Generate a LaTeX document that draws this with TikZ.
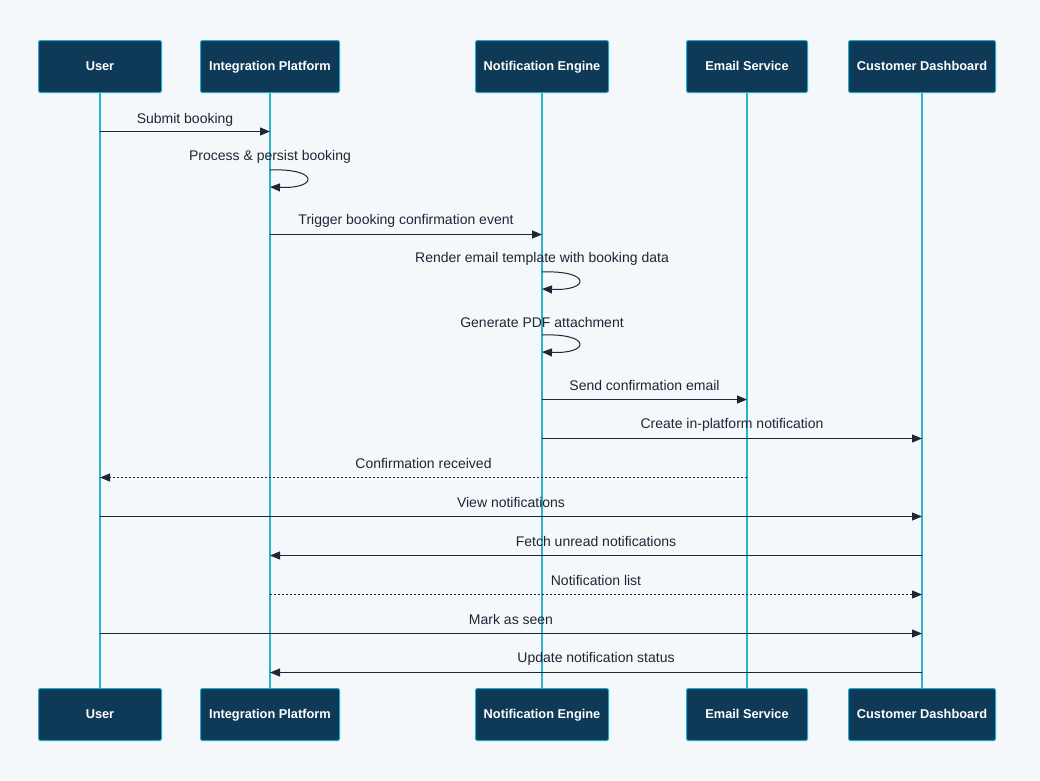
\documentclass[tikz,border=0pt]{standalone}
\usepackage{fontspec}
\setmainfont{Liberation Sans}
\usetikzlibrary{arrows.meta}
\definecolor{bg}{HTML}{F4F8FB}
\definecolor{boxfill}{HTML}{0E3A58}
\definecolor{boxline}{HTML}{22A9CA}
\definecolor{life}{HTML}{2AB2CE}
\definecolor{ink}{HTML}{1C2635}
\begin{document}
\begin{tikzpicture}[x=1pt,y=-1pt,
  actor/.style={draw=boxline, line width=1pt, fill=boxfill, rounded corners=2pt,
    text=white, font=\fontsize{12.8}{14}\selectfont\bfseries, inner sep=0pt,
    text height=9.5pt, text depth=2.5pt, minimum height=52pt, anchor=north west},
  lifeline/.style={draw=life, line width=1.4pt},
  msg/.style={draw=ink, line width=1pt, -{Triangle[length=10pt,width=8pt]}},
  reply/.style={msg, dash pattern=on 2pt off 2pt},
  lbl/.style={text=ink, font=\fontsize{14}{16}\selectfont, inner sep=0pt, yshift=14pt},
  selflbl/.style={lbl, yshift=-1pt}]
\useasboundingbox[fill=bg] (0,0) rectangle (1040,780);
% top actors
\node[actor, minimum width=123pt] (uT) at (38,40) {User};
\node[actor, minimum width=139pt] (ipT) at (200,40) {Integration Platform};
\node[actor, minimum width=133pt] (neT) at (475,40) {Notification Engine};
\node[actor, minimum width=121pt] (esT) at (686,40) {Email Service};
\node[actor, minimum width=147pt] (cdT) at (848,40) {Customer Dashboard};
% bottom actors
\node[actor, minimum width=123pt] (uB) at (38,688) {User};
\node[actor, minimum width=139pt] (ipB) at (200,688) {Integration Platform};
\node[actor, minimum width=133pt] (neB) at (475,688) {Notification Engine};
\node[actor, minimum width=121pt] (esB) at (686,688) {Email Service};
\node[actor, minimum width=147pt] (cdB) at (848,688) {Customer Dashboard};
% lifelines
\draw[lifeline] (uT.south) -- (uB.north);
\draw[lifeline] (ipT.south) -- (ipB.north);
\draw[lifeline] (neT.south) -- (neB.north);
\draw[lifeline] (esT.south) -- (esB.north);
\draw[lifeline] (cdT.south) -- (cdB.north);
% messages
\draw[msg] (uT |- 0,131.5) -- node[lbl, yshift=-2pt]{Submit booking} (ipT |- 0,131.5);
\draw[msg] (ipT |- 0,170) node[selflbl]{Process \& persist booking}
  .. controls +(49,-2) and +(49,2) .. (ipT |- 0,187);
\draw[msg] (ipT |- 0,234.5) -- node[lbl]{Trigger booking confirmation event} (neT |- 0,234.5);
\draw[msg] (neT |- 0,272) node[selflbl]{Render email template with booking data}
  .. controls +(49,-2) and +(49,2) .. (neT |- 0,289);
\draw[msg] (neT |- 0,335) node[selflbl]{Generate PDF attachment}
  .. controls +(49,-2) and +(49,2) .. (neT |- 0,352);
\draw[msg] (neT |- 0,399.5) -- node[lbl]{Send confirmation email} (esT |- 0,399.5);
\draw[msg] (neT |- 0,438.5) -- node[lbl]{Create in-platform notification} (cdT |- 0,438.5);
\draw[reply] (esT |- 0,477.5) -- node[lbl]{Confirmation received} (uT |- 0,477.5);
\draw[msg] (uT |- 0,516.5) -- node[lbl]{View notifications} (cdT |- 0,516.5);
\draw[msg] (cdT |- 0,555.5) -- node[lbl]{Fetch unread notifications} (ipT |- 0,555.5);
\draw[reply] (ipT |- 0,594.5) -- node[lbl]{Notification list} (cdT |- 0,594.5);
\draw[msg] (uT |- 0,633.5) -- node[lbl]{Mark as seen} (cdT |- 0,633.5);
\draw[msg] (cdT |- 0,672.5) -- node[lbl]{Update notification status} (ipT |- 0,672.5);
\end{tikzpicture}
\end{document}
